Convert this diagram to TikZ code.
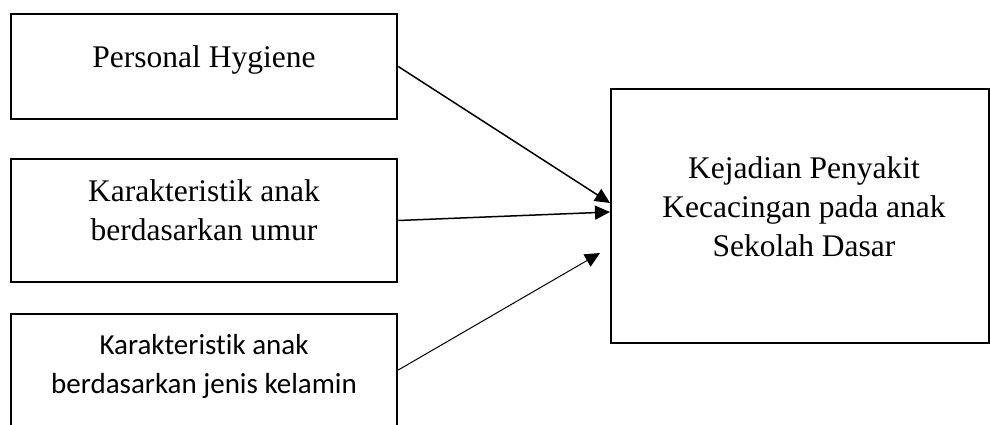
\documentclass[tikz,border=0pt]{standalone}
\usepackage{fontspec}
\setmainfont{Liberation Serif}
\newfontfamily\calibrifont[Ligatures=NoCommon]{Carlito}
\usetikzlibrary{arrows.meta,positioning}

\begin{document}
\begin{tikzpicture}[x=0.5pt, y=-0.5pt,
  factorbox/.style={draw=black, line width=1.25pt, minimum width=193pt, inner sep=0pt},
  boxtext/.style={align=center, inner sep=0pt, font=\fontsize{15.75}{19.5}\selectfont},
  sanstext/.style={align=center, inner sep=0pt, font=\calibrifont\fontsize{14.5}{19.5}\selectfont},
  link/.style={-{Triangle[length=7.5pt,width=7pt]}, black, line width=0.75pt}]

\clip (0,0) rectangle (991,424);

% Factor boxes
\node[factorbox, minimum height=52.5pt] (hyg) at (204,66.5) {};
\node[boxtext] (hygtext) at (204,59.5) {Personal Hygiene};

\node[factorbox, minimum height=61.5pt] (age) at (204,220.5) {};
\node[boxtext] (agetext) at (204,210) {Karakteristik anak\\berdasarkan umur};

\node[factorbox, minimum height=56pt] (sex) at (204,370) {};
\node[sanstext] (sextext) at (204,366) {Karakteristik anak\\berdasarkan jenis kelamin};

% Outcome box
\node[draw=black, line width=1.25pt, minimum width=189pt, minimum height=127pt, inner sep=0pt] (worm) at (800,216) {};
\node[boxtext] (wormtext) at (804,207) {Kejadian Penyakit\\Kecacingan pada anak\\Sekolah Dasar};

\coordinate (in1) at (610,203);
\coordinate (in2) at (610,212);
\coordinate (in3) at (600,253);

% Connecting arrows
\draw[link] (hyg.east) -- (in1);
\draw[link] (age.east) -- (in2);
\draw[link, line width=0.5pt] (sex.east) -- (in3);

\end{tikzpicture}
\end{document}
